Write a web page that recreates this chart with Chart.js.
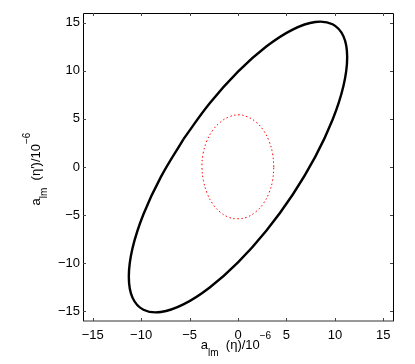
<!DOCTYPE html>
<html>
<head>
<meta charset="utf-8">
<script src="https://cdn.jsdelivr.net/npm/chart.js@4.4.1/dist/chart.umd.min.js"></script>
<style>
  body { margin: 0; background: #fff; }
  canvas { display: block; }
</style>
</head>
<body>
<canvas id="chart" width="415" height="364"></canvas>
<script>
// tick labels
const xTicks = [-15, -10, -5, 0, 5, 10, 15];
const yTicks = [-15, -10, -5, 0, 5, 10, 15];

// outer (black) curve; starts on its flattest side
const outerX = [-5.64, -7.97, -9.76, -10.89, -11.27, -10.89, -9.76, -7.97, -5.64, -2.92, 0, 2.92,
  5.64, 7.97, 9.76, 10.89, 11.27, 10.89, 9.76, 7.97, 5.64, 2.92, 0, -2.92, -5.64];
const outerY = [2.88, -1.05, -4.91, -8.45, -11.4, -13.57, -14.83, -15.07, -14.28, -12.52, -9.91, -6.62,
  -2.88, 1.05, 4.91, 8.45, 11.4, 13.57, 14.83, 15.07, 14.28, 12.52, 9.91, 6.62, 2.88];

// inner (red dotted) curve
const innerX = [3.7, 3.57, 3.2, 2.62, 1.85, 0.96, 0.1, -0.9, -1.8, -2.6, -3.22, -3.6,
  -3.72, -3.57, -3.2, -2.62, -1.85, -0.96, -0.05, 0.9, 1.8, 2.6, 3.2, 3.57, 3.7];
const innerY = [0, 1.4, 2.7, 3.82, 4.68, 5.22, 5.42, 5.22, 4.68, 3.82, 2.7, 1.4,
  0, -1.4, -2.7, -3.82, -4.68, -5.22, -5.38, -5.22, -4.68, -3.82, -2.7, -1.4, 0];

const FONT = "'Liberation Sans', Arial, sans-serif";
Chart.defaults.color = '#000';
Chart.defaults.font.family = FONT;
Chart.defaults.font.size = 13;

const toPts = (xs, ys) => xs.map((x, i) => ({ x: x, y: ys[i] }));
const minus = v => String(v).replace('-', '\u2212');

// draw text with sub/superscripts, centered on x
function richText(ctx, parts, cx, y) {
  let total = 0;
  parts.forEach(p => {
    ctx.font = p[1] + 'px ' + FONT;
    total += ctx.measureText(p[0]).width;
  });
  let x = cx - total / 2;
  ctx.textAlign = 'left';
  ctx.textBaseline = 'alphabetic';
  ctx.fillStyle = '#000';
  parts.forEach(p => {
    ctx.font = p[1] + 'px ' + FONT;
    ctx.fillText(p[0], x, y + p[2]);
    x += ctx.measureText(p[0]).width;
  });
}

const frame = {
  id: 'frame',
  afterDraw(chart) {
    const ctx = chart.ctx;
    const a = chart.chartArea;
    const sx = chart.scales.x, sy = chart.scales.y;
    ctx.save();
    ctx.lineWidth = 1;
    ctx.strokeStyle = '#000';
    ctx.beginPath();
    ctx.moveTo(a.left + 0.5, a.bottom);
    ctx.lineTo(a.left + 0.5, a.top + 0.5);
    ctx.lineTo(a.right + 0.5, a.top + 0.5);
    ctx.lineTo(a.right + 0.5, a.bottom);
    ctx.stroke();
    // bottom edge lands between pixels, as in the reference
    ctx.strokeStyle = '#333';
    ctx.beginPath();
    ctx.moveTo(a.left, a.bottom);
    ctx.lineTo(a.right + 1, a.bottom);
    ctx.stroke();

    ctx.strokeStyle = '#444';
    ctx.beginPath();
    xTicks.forEach(v => {
      const px = Math.round(sx.getPixelForValue(v)) + 0.5;
      ctx.moveTo(px, a.bottom); ctx.lineTo(px, a.bottom - 3);
      ctx.moveTo(px, a.top); ctx.lineTo(px, a.top + 3);
    });
    yTicks.forEach(v => {
      const py = Math.round(sy.getPixelForValue(v)) + 0.5;
      ctx.moveTo(a.left, py); ctx.lineTo(a.left + 3, py);
      ctx.moveTo(a.right, py); ctx.lineTo(a.right - 3, py);
    });
    ctx.stroke();

    // axis titles
    const cx = (a.left + a.right) / 2;
    richText(ctx, [['a', 13, 0], ['lm', 10, 7], ['  (\u03b7)/10', 13, 0], ['\u22126', 10, -10]], cx - 2, 349);
    ctx.translate(40, (a.top + a.bottom) / 2 + 2);
    ctx.rotate(-Math.PI / 2);
    richText(ctx, [['a', 13, 0], ['lm', 10, 7], ['  (\u03b7\u2032)/10', 13, 0], ['\u22126', 10, -10]], 0, 0);
    ctx.restore();
  }
};

new Chart(document.getElementById('chart'), {
  type: 'scatter',
  data: {
    datasets: [
      {
        data: toPts(outerX, outerY),
        showLine: true,
        borderColor: '#000',
        borderWidth: 2.4,
        pointRadius: 0,
        tension: 0.4
      },
      {
        data: toPts(innerX, innerY),
        showLine: true,
        borderColor: '#ff0000',
        borderWidth: 1,
        borderDash: [1.5, 2.5],
        pointRadius: 0,
        tension: 0.4
      }
    ]
  },
  options: {
    responsive: false,
    animation: false,
    layout: { padding: { top: 13, right: 22, left: 0, bottom: 0 } },
    plugins: { legend: { display: false }, tooltip: { enabled: false } },
    scales: {
      x: {
        type: 'linear',
        min: -16,
        max: 16,
        afterBuildTicks: s => { s.ticks = xTicks.map(v => ({ value: v })); },
        afterFit: s => { s.height = 43; },
        grid: { display: false, drawTicks: false },
        border: { display: false },
        ticks: { padding: 7, maxRotation: 0, autoSkip: false, callback: minus }
      },
      y: {
        type: 'linear',
        min: -16,
        max: 16,
        afterBuildTicks: s => { s.ticks = yTicks.map(v => ({ value: v })); },
        afterFit: s => { s.width = 83; },
        grid: { display: false, drawTicks: false },
        border: { display: false },
        ticks: { padding: 3, autoSkip: false, callback: minus }
      }
    }
  },
  plugins: [frame]
});
</script>
</body>
</html>
